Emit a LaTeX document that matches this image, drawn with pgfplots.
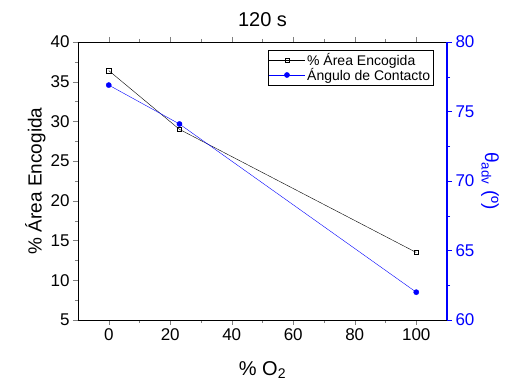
\documentclass[border=0pt]{standalone}
\usepackage{pgfplots}
\pgfplotsset{compat=1.18}
\usepackage{fontspec}
\setmainfont{Liberation Sans}
\definecolor{myblue}{RGB}{0,0,255}
\begin{document}
\begin{tikzpicture}
\useasboundingbox (-78pt,-70pt) rectangle (439pt,320pt);
\pgfplotsset{
  common/.style={
    scale only axis, width=369pt, height=278pt,
    at={(0,0)}, anchor=south west,
    xmin=-10, xmax=110,
    xtick={0,20,...,100}, minor x tick num=1,
    tick align=outside,
    major tick length=5pt, minor tick length=3pt,
    tick label style={font=\fontsize{17}{19}\selectfont},
    /pgf/number format/assume math mode=true,
  }
}
\begin{axis}[common,
  ymin=5, ymax=40, ytick={5,10,...,40}, minor y tick num=1,
  axis y line*=left,
  xlabel={\% O\textsubscript{2}},
  xlabel style={font=\fontsize{20}{22}\selectfont, yshift=-14pt},
  ylabel={\% Área Encogida},
  ylabel style={font=\fontsize{19}{21}\selectfont, yshift=-2pt},
  title={120 s}, title style={font=\fontsize{20}{22}\selectfont, yshift=6pt},
  legend style={at={(0.963,0.97)}, anchor=north east, font=\fontsize{14}{15}\selectfont, draw=black, inner sep=1pt, row sep=-3pt},
  legend image code/.code={\draw[#1,mark=none] (0pt,0pt) -- (36pt,0pt); \draw[#1,only marks] plot coordinates {(18pt,0pt)};},
  legend cell align=left,
]
\addplot[black, mark=square, mark options={fill=white, scale=1.1}] coordinates {(0,36.4) (23,29.0) (100,13.5)};
\addlegendentry{\% Área Encogida}
\addlegendimage{myblue, mark=*, mark options={scale=1.3}}
\addlegendentry{Ángulo de Contacto}
\end{axis}
\begin{axis}[common,
  ymin=60, ymax=80, ytick={60,65,...,80}, minor y tick num=1,
  axis y line*=right, axis x line=none,
  y axis line style={myblue, line width=1.2pt},
  y tick style={myblue},
  yticklabel style={myblue},
  ylabel={θ\textsubscript{adv} (º)},
  ylabel style={myblue, font=\fontsize{19}{21}\selectfont, rotate=180},
]
\addplot[myblue, mark=*, mark options={scale=1.3}] coordinates {(0,76.9) (23,74.1) (100,62.0)};
\end{axis}
\end{tikzpicture}
\end{document}
